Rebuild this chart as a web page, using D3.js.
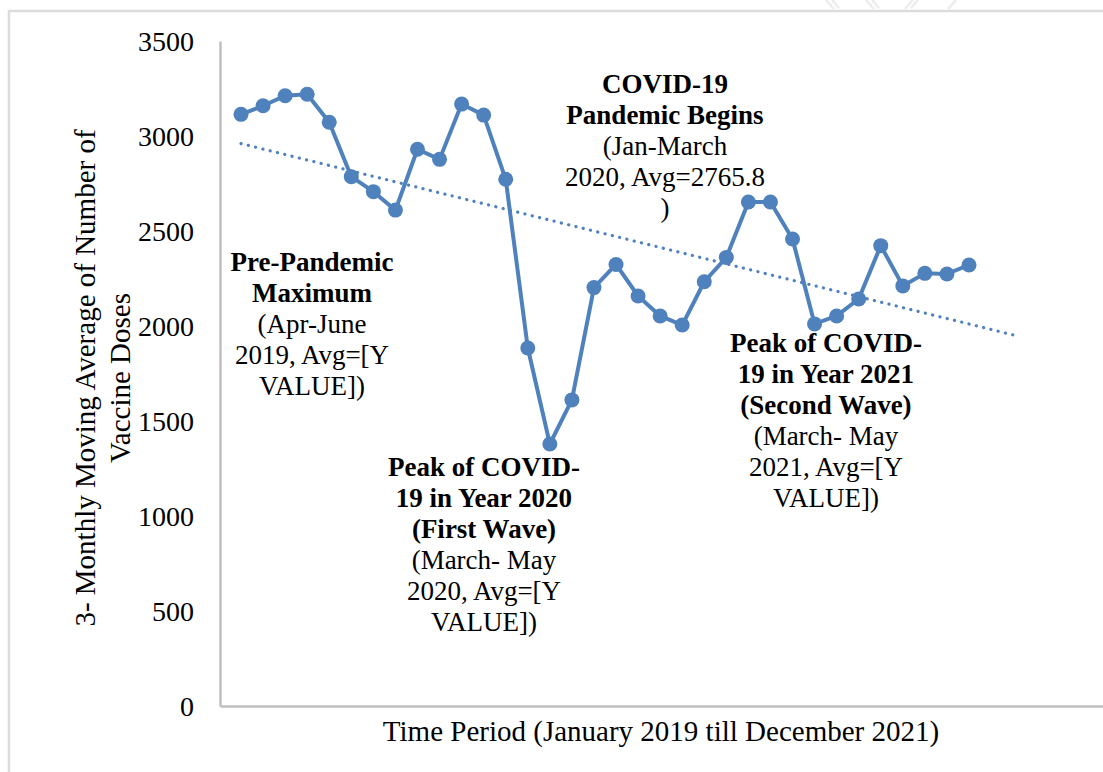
<!DOCTYPE html>
<html>
<head>
<meta charset="utf-8">
<script src="https://cdn.jsdelivr.net/npm/d3@7"></script>
<style>
  body { margin: 0; background: #fff; }
  svg { display: block; font-family: "Liberation Serif", "Times New Roman", serif; }
  .frame { stroke: #dcdcdc; stroke-width: 2.5; fill: none; }
  .axis path { stroke: #bfbfbf; stroke-width: 2.5; }
  .axis text { font-size: 28px; fill: #000; font-family: "Liberation Serif", serif; }
  .series { fill: none; stroke: #4f81bd; stroke-width: 4; stroke-linejoin: round; }
  .dot { fill: #4f81bd; }
  .trend { fill: none; stroke: #4f81bd; stroke-width: 3.2; stroke-linecap: round; stroke-dasharray: 0.1 7.4; }
  .note { font-size: 27px; fill: #000; }
  .note .b { font-weight: bold; }
  .title { font-size: 29px; fill: #000; }
</style>
</head>
<body>
<div id="chart"></div>
<script>
var width = 1103, height = 772;

// 3-month moving average, one value per period (Jan 2019 - Dec 2021)
var doses = [3114, 3159, 3212, 3220, 3072, 2786, 2707, 2610, 2930, 2877,
             3168, 3110, 2772, 1884, 1379, 1611, 2202, 2324, 2158, 2053,
             2005, 2233, 2361, 2653, 2653, 2458, 2011, 2053, 2142, 2423,
             2211, 2277, 2274, 2321];

// linear trendline as drawn (period index, value), forecast 2 periods forward
var trendIdx = [0, 35];
var trendVal = [2960, 1953];

var yTicks = [0, 500, 1000, 1500, 2000, 2500, 3000, 3500];

var yTitle = ["3- Monthly Moving Average of Number of", "Vaccine Doses"];
var xTitle = "Time Period (January 2019 till December 2021)";

// annotation blocks: [text, bold?]
var notes = [
  { cx: 312, top: 262, lines: [["Pre-Pandemic", 1], ["Maximum", 1], ["(Apr-June", 0], ["2019, Avg=[Y", 0], ["VALUE])", 0]] },
  { cx: 665, top: 84,  lines: [["COVID-19", 1], ["Pandemic Begins", 1], ["(Jan-March", 0], ["2020, Avg=2765.8", 0], [")", 0]] },
  { cx: 484, top: 467, lines: [["Peak of COVID-", 1], ["19 in Year 2020", 1], ["(First Wave)", 1], ["(March- May", 0], ["2020, Avg=[Y", 0], ["VALUE])", 0]] },
  { cx: 826, top: 343, lines: [["Peak of COVID-", 1], ["19 in Year 2021", 1], ["(Second Wave)", 1], ["(March- May", 0], ["2021, Avg=[Y", 0], ["VALUE])", 0]] }
];

var svg = d3.select("#chart").append("svg")
  .attr("width", width)
  .attr("height", height);

// faint page frame
svg.append("path")
  .attr("class", "frame")
  .attr("d", "M9," + height + "V11H" + width);

// faint watermark hatching at the top edge
var hatch = svg.append("g").attr("stroke", "#ececec").attr("stroke-width", 2.5);
[[826, 0, 834, 9], [832, 0, 839, 8], [866, 0, 874, 9], [872, 0, 879, 8],
 [905, 9, 913, 0], [911, 8, 918, 0], [948, 9, 956, 0]].forEach(function(s) {
  hatch.append("line").attr("x1", s[0]).attr("y1", s[1]).attr("x2", s[2]).attr("y2", s[3]);
});

var x = d3.scaleLinear().domain([0, doses.length - 1]).range([241, 969]);
var y = d3.scaleLinear().domain([0, 3500]).range([706, 41]);
var xFrame = d3.scaleLinear().range([220, width]);

svg.append("g")
  .attr("class", "axis")
  .attr("transform", "translate(220,0)")
  .call(d3.axisLeft(y).tickValues(yTicks).tickFormat(d3.format("d")).tickSize(0).tickPadding(26))
  .selectAll("text").attr("dy", "0.33em");

svg.append("g")
  .attr("class", "axis")
  .attr("transform", "translate(0," + y(0) + ")")
  .call(d3.axisBottom(xFrame).tickValues([]).tickSizeOuter(0));

// trendline
svg.append("path")
  .datum(d3.zip(trendIdx, trendVal))
  .attr("class", "trend")
  .attr("d", d3.line().x(function(d) { return x(d[0]); }).y(function(d) { return y(d[1]); }));

svg.append("path")
  .datum(doses)
  .attr("class", "series")
  .attr("d", d3.line().x(function(d, i) { return x(i); }).y(function(d) { return y(d); }));

svg.selectAll(".dot")
  .data(doses)
  .enter().append("circle")
    .attr("class", "dot")
    .attr("cx", function(d, i) { return x(i); })
    .attr("cy", function(d) { return y(d); })
    .attr("r", 7.5);

// annotations
notes.forEach(function(n) {
  var t = svg.append("text")
    .attr("class", "note")
    .attr("text-anchor", "middle");
  n.lines.forEach(function(l, i) {
    t.append("tspan")
      .attr("class", l[1] ? "b" : null)
      .attr("x", n.cx)
      .attr("y", n.top + i * 31)
      .attr("dy", "0.35em")
      .text(l[0]);
  });
});

// axis titles
svg.append("text")
  .attr("class", "title")
  .attr("text-anchor", "middle")
  .attr("x", 661)
  .attr("y", 731)
  .attr("dy", "0.35em")
  .text(xTitle);

var yt = svg.append("text")
  .attr("class", "title")
  .attr("text-anchor", "middle")
  .attr("transform", "translate(85,378) rotate(-90)");
yTitle.forEach(function(s, i) {
  yt.append("tspan")
    .attr("x", 0)
    .attr("y", i * 35)
    .attr("dy", "0.35em")
    .text(s);
});
</script>
</body>
</html>
